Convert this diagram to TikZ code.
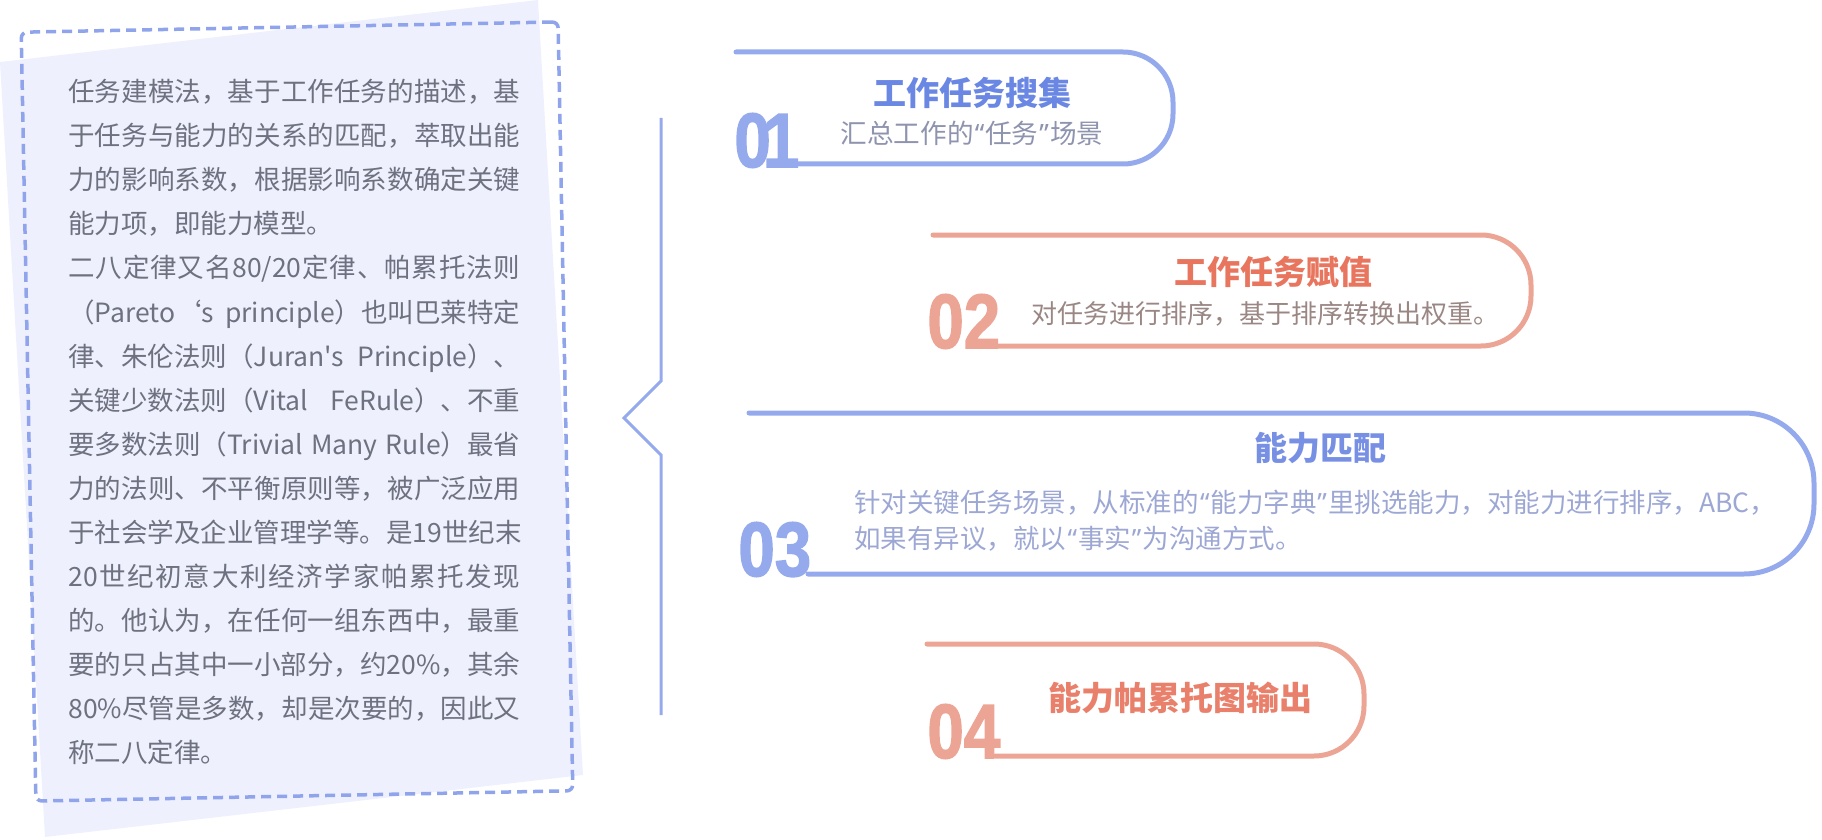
\documentclass[tikz,border=0pt]{standalone}
\usepackage{fontspec}
\setmainfont{Noto Sans CJK SC}[Ligatures=TeXOff]
\newfontfamily\digfont{Liberation Sans}[FakeBold=2]
\newfontfamily\latq{Noto Sans}
\definecolor{bgl}{HTML}{EEF0FD}
\definecolor{dashc}{HTML}{8FA4EB}
\definecolor{bl}{HTML}{95AAEC}
\definecolor{blt}{HTML}{6A87E3}
\definecolor{blt3}{HTML}{7890E4}
\definecolor{sa}{HTML}{ECA594}
\definecolor{sat}{HTML}{E8765F}
\definecolor{sat4}{HTML}{E9806B}
\definecolor{txt}{HTML}{6E7180}
\definecolor{sub1}{HTML}{8E93AE}
\definecolor{sub2}{HTML}{9A8784}
\definecolor{sub3}{HTML}{9DA7D4}
\makeatletter
\newcommand\jline[1]{\hbox to 226pt{\jl@a#1\jl@end}}
\def\jl@a#1{#1\futurelet\jl@next\jl@b}
\def\jl@b{\ifx\jl@next\jl@end\else\hfil\expandafter\jl@a\fi}
\def\jl@end{}
\makeatother
\newcommand\sline[1]{\makebox[226pt][s]{#1}}
\newcommand\oq{\kern0.05em{\latq “}\kern0.03em}
\newcommand\cq{\kern0.03em{\latq ”}\kern0.05em}
\newcommand\dig[3][0em]{\scalebox{0.85}[1]{#2\kern#1 #3}}
\tikzset{
  body/.style={anchor=base west, inner sep=0pt, text=txt, font=\fontsize{13.25pt}{13.25pt}\selectfont},
  ttl/.style={anchor=base, inner sep=0pt, font=\fontsize{16.5pt}{16.5pt}\selectfont\bfseries},
  subt/.style={anchor=base, inner sep=0pt, font=\fontsize{13pt}{13pt}\selectfont},
  digit/.style={anchor=base west, inner sep=0pt, font=\fontsize{38.5pt}{38.5pt}\selectfont\digfont\bfseries},
  capsule/.style={line width=2.5pt, line cap=round, line join=round},
}
\begin{document}
\begin{tikzpicture}[x=0.5pt, y=-0.5pt]
\useasboundingbox (0,0) rectangle (1822,840);
% left panel
\fill[bgl] (0,62) -- (538,0) -- (583,775) -- (45,837) -- cycle;
\node[draw=dashc, line width=1.75pt, dash pattern=on 5pt off 3pt, rounded corners=3pt,
      minimum width=268.5pt, minimum height=384.5pt, rotate=1.1, inner sep=0pt] (frame) at (297,411.5) {};
\node[body] (l1) at (68,102) {\jline{任务建模法，基于工作任务的描述，基}};
\node[body] (l2) at (68,146) {\jline{于任务与能力的关系的匹配，萃取出能}};
\node[body] (l3) at (68,190) {\jline{力的影响系数，根据影响系数确定关键}};
\node[body] (l4) at (68,234) {能力项，即能力模型。};
\node[body] (l5) at (68,278) {\jline{二八定律又名{80/20}定律、帕累托法则}};
\node[body] (l6) at (68,322) {\sline{（Pareto‘s principle）也叫巴莱特定}};
\node[body] (l7) at (68,366) {\sline{律、朱伦法则（Juran's Principle）、}};
\node[body] (l8) at (68,410) {\sline{关键少数法则（Vital FeRule）、不重}};
\node[body] (l9) at (68,454) {\sline{要多数法则（Trivial Many Rule）最省}};
\node[body] (l10) at (68,498) {\jline{力的法则、不平衡原则等，被广泛应用}};
\node[body] (l11) at (68,542) {\jline{于社会学及企业管理学等。是{19}世纪末}};
\node[body] (l12) at (68,586) {\jline{{20}世纪初意大利经济学家帕累托发现}};
\node[body] (l13) at (68,630) {\jline{的。他认为，在任何一组东西中，最重}};
\node[body] (l14) at (68,674) {\jline{要的只占其中一小部分，约{20\%}，其余}};
\node[body] (l15) at (68,718) {\jline{{80\%}尽管是多数，却是次要的，因此又}};
\node[body] (l16) at (68,762) {称二八定律。};
% bracket
\draw[bl, line width=1.5pt, line join=miter] (661,118) -- (661,381) -- (624,418) -- (661,455) -- (661,715);
% capsules
\draw[capsule, bl, rounded corners=25pt] (736,52) -- (1173,52) -- (1173,164) -- (788,164);
\draw[capsule, sa, rounded corners=25pt] (933,235) -- (1531,235) -- (1531,346) -- (997,346);
\draw[capsule, bl, rounded corners=35pt] (749,413) -- (1814,413) -- (1814,574) -- (808,574);
\draw[capsule, sa, rounded corners=25pt] (927,644) -- (1364,644) -- (1364,756) -- (995,756);
% digits
\node[digit, text=bl] (d1) at (734,167) {\dig[-0.12em]{0}{1}};
\node[digit, text=sa] (d2) at (927,348) {\dig{0}{2}};
\node[digit, text=bl] (d3) at (738,576) {\dig{0}{3}};
\node[digit, text=sa] (d4) at (927,758) {\dig{0}{4}};
% texts
\node[ttl, text=blt] (t1) at (972,105.5) {工作任务搜集};
\node[subt, text=sub1, font=\fontsize{13.3pt}{13.3pt}\selectfont] (s1) at (972,144) {汇总工作的\oq 任务\cq 场景};
\node[ttl, text=sat] (t2) at (1273,284.5) {工作任务赋值};
\node[subt, text=sub2] (s2) at (1265,323.5) {对任务进行排序，基于排序转换出权重。};
\node[ttl, text=blt3] (t3) at (1320,460.5) {能力匹配};
\node[subt, text=sub3, anchor=base west, font=\fontsize{13.25pt}{13.25pt}\selectfont] (s3a) at (854,512) {针对关键任务场景，从标准的\oq 能力字典\cq 里挑选能力，对能力进行排序，ABC，};
\node[subt, text=sub3, anchor=base west, font=\fontsize{13.25pt}{13.25pt}\selectfont] (s3b) at (854,548) {如果有异议，就以\oq 事实\cq 为沟通方式。};
\node[ttl, text=sat4] (t4) at (1180,710.5) {能力帕累托图输出};
\end{tikzpicture}
\end{document}
